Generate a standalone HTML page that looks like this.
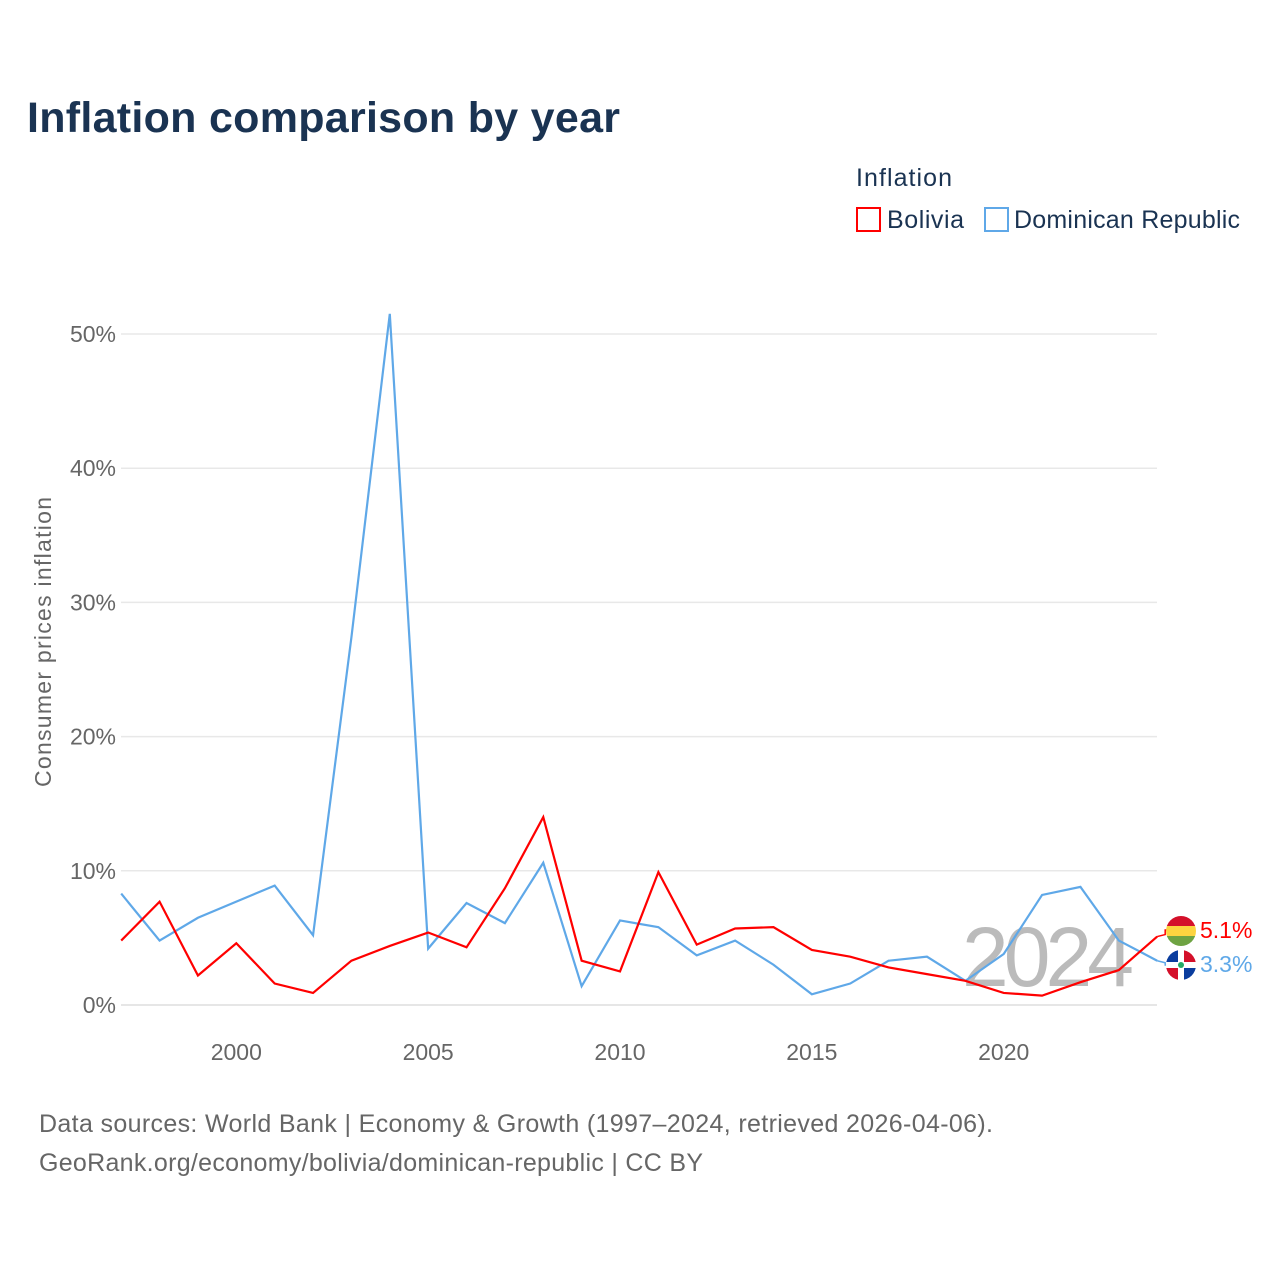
<!DOCTYPE html>
<html><head><meta charset="utf-8"><style>
body{margin:0;background:#fff;font-family:"Liberation Sans",sans-serif;}
svg{display:block}
</style></head><body>
<svg width="1280" height="1280" viewBox="0 0 1280 1280">
<text x="27" y="132" font-size="43" font-weight="bold" fill="#1a3352" textLength="593">Inflation comparison by year</text>
<text x="856" y="186" font-size="25" fill="#1a3352" textLength="96">Inflation</text>
<g><rect x="857" y="208" width="23" height="23" fill="none" stroke="#f00" stroke-width="2"/><text x="887" y="228" font-size="25" fill="#1a3352" textLength="77">Bolivia</text></g>
<g><rect x="985" y="208" width="23" height="23" fill="none" stroke="#5fa8e8" stroke-width="2"/><text x="1014" y="228" font-size="25" fill="#1a3352" textLength="226">Dominican Republic</text></g>
<g id="grid"></g>
<text transform="translate(51,642) rotate(-90)" text-anchor="middle" font-size="23" fill="#666" textLength="290">Consumer prices inflation</text>
<text x="1048" y="986" text-anchor="middle" font-size="84" fill="#bbb" textLength="172">2024</text>
<g id="series"></g>
<g id="endlabels"></g>
<text x="39" y="1132" font-size="25" fill="#666" textLength="954">Data sources: World Bank | Economy &amp; Growth (1997–2024, retrieved 2026-04-06).</text>
<text x="39" y="1171" font-size="25" fill="#666" textLength="664">GeoRank.org/economy/bolivia/dominican-republic | CC BY</text>
</svg>
<script>
const years=[1997,1998,1999,2000,2001,2002,2003,2004,2005,2006,2007,2008,2009,2010,2011,2012,2013,2014,2015,2016,2017,2018,2019,2020,2021,2022,2023,2024];
const bolivia=[4.8,7.7,2.2,4.6,1.6,0.9,3.3,4.4,5.4,4.3,8.7,14.0,3.3,2.5,9.9,4.5,5.7,5.8,4.1,3.6,2.8,2.3,1.8,0.9,0.7,1.7,2.6,5.1];
const dominican=[8.3,4.8,6.5,7.7,8.9,5.2,27.4,51.5,4.2,7.6,6.1,10.6,1.4,6.3,5.8,3.7,4.8,3.0,0.8,1.6,3.3,3.6,1.8,3.8,8.2,8.8,4.8,3.3];
const yTicks=[0,10,20,30,40,50];
const xTicks=[2000,2005,2010,2015,2020];
const NS="http://www.w3.org/2000/svg";
const X=y=>121.2+(y-1997)*38.37;
const Y=v=>1005-v*13.42;
function mk(tag,attrs,parent){const e=document.createElementNS(NS,tag);for(const k in attrs)e.setAttribute(k,attrs[k]);parent.appendChild(e);return e;}
const grid=document.getElementById('grid');
yTicks.forEach(t=>{
 const l=mk('line',{x1:121,x2:1157,y1:Y(t),y2:Y(t),stroke:t===0?'#ddd':'#e8e8e8','stroke-width':1.5},grid);
 
 
 const tx=mk('text',{x:116,y:Y(t)+8,'text-anchor':'end','font-size':23,fill:'#666'},grid);
 tx.textContent=t+'%';
 
 
});
xTicks.forEach(t=>{
 const tx=mk('text',{x:X(t),y:1060,'text-anchor':'middle','font-size':23,fill:'#666'},grid);
 tx.textContent=t;
 
 
});
const ser=document.getElementById('series');
[[dominican,'#5fa8e8','dominican-republic-line'],[bolivia,'#f00','bolivia-line']].forEach(([d,c,n])=>{
 const p=mk('polyline',{points:d.map((v,i)=>X(years[i])+','+Y(v)).join(' '),fill:'none',stroke:c,'stroke-width':2.2,'stroke-linejoin':'miter'},ser);
 
 
});
const el=document.getElementById('endlabels');
const lb=bolivia[bolivia.length-1], ld=dominican[dominican.length-1];
const xe=X(2024);
mk('polyline',{points:`${xe},${Y(lb)} ${xe+8},${Y(lb)-2} ${xe+8},930 ${xe+12},930`,fill:'none',stroke:'#f00','stroke-width':1.5},el);
const fb=mk('g',{},el);


const cb=mk('clipPath',{id:'cb'},fb);mk('circle',{cx:1181,cy:931,r:15},cb);
mk('rect',{x:1166,y:916,width:30,height:10,fill:'#d4102a','clip-path':'url(#cb)'},fb);
mk('rect',{x:1166,y:926,width:30,height:10,fill:'#fcd440','clip-path':'url(#cb)'},fb);
mk('rect',{x:1166,y:936,width:30,height:10,fill:'#6ea342','clip-path':'url(#cb)'},fb);
const tb=mk('text',{x:1200,y:938,'font-size':23,fill:'#f00'},el);
tb.textContent=lb.toFixed(1)+'%';


mk('polyline',{points:`${xe},${Y(ld)} ${xe+8},${Y(ld)+2} ${xe+8},965 ${xe+12},965`,fill:'none',stroke:'#5fa8e8','stroke-width':1.5},el);
const fd=mk('g',{},el);


const cp=mk('clipPath',{id:'cd'},fd);mk('circle',{cx:1181,cy:965,r:15},cp);
mk('rect',{x:1166,y:950,width:30,height:30,fill:'#fff','clip-path':'url(#cd)'},fd);
mk('rect',{x:1166,y:950,width:12,height:12,fill:'#0a3d9e','clip-path':'url(#cd)'},fd);
mk('rect',{x:1184,y:950,width:12,height:12,fill:'#d4102a','clip-path':'url(#cd)'},fd);
mk('rect',{x:1166,y:968,width:12,height:12,fill:'#d4102a','clip-path':'url(#cd)'},fd);
mk('rect',{x:1184,y:968,width:12,height:12,fill:'#0a3d9e','clip-path':'url(#cd)'},fd);
mk('circle',{cx:1181,cy:965,r:3,fill:'#2a6'},fd);
const td=mk('text',{x:1200,y:972,'font-size':23,fill:'#5fa8e8'},el);
td.textContent=ld.toFixed(1)+'%';


</script>
</body></html>
